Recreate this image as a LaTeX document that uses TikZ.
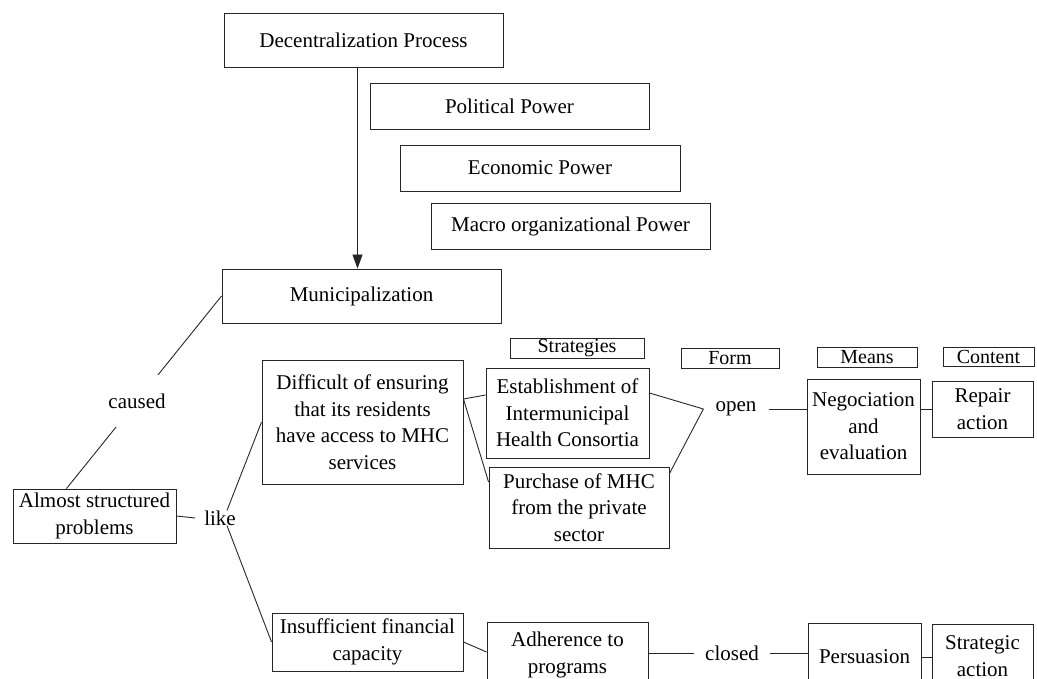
\documentclass[tikz,border=0pt]{standalone}
\usepackage{fontspec}
\setmainfont{Liberation Serif}
\usetikzlibrary{arrows.meta}
\begin{document}
\begin{tikzpicture}[x=1pt,y=-1pt,
  txt/.style={font=\fontsize{21}{26.5}\selectfont},
  box/.style 2 args={txt, draw=black!85, line width=0.9pt, inner sep=0pt, align=center,
    minimum width=#1pt, minimum height=#2pt},
  head/.style={font=\fontsize{20}{24}\selectfont},
  lab/.style={txt, inner xsep=11pt, inner ysep=0pt},
  conn/.style={draw=black!85, line width=0.9pt}]
\useasboundingbox (0,0) rectangle (1037,679);
\clip (0,0) rectangle (1037,679);
% top part
\node[box={279}{54}] (dec) at (363.5,40) {Decentralization Process};
\node[box={279}{46}] (pol) at (509.5,106) {Political Power};
\node[box={280}{46}] (eco) at (540,168) {Economic Power};
\node[box={279}{46}] (mac) at (570.5,226) {Macro organizational Power};
\node[box={279}{54}] (mun) at (361.5,296) {Municipalization};
% left
\node[box={163}{54}] (almost) at (94.5,516) {Almost structured\\problems};
\node[txt, inner xsep=9pt, inner ysep=0pt] (like) at (220,518) {like};
\node[box={201}{124}] (diff) at (362.5,422) {Difficult of ensuring\\that its residents\\have access to MHC\\services};
\node[box={191}{58}] (insuf) at (367.5,642) {Insufficient financial\\capacity};
% headers
\node[box={134}{20}, head] (strat) at (577,348.5) {Strategies};
\node[box={98}{20}, head] (form) at (730,358.5) {Form};
\node[box={100}{20}, head] (means) at (867,357.5) {Means};
\node[box={91}{19}, head] (content) at (988.5,357) {Content};
% middle
\node[box={163}{90}] (estab) at (567.5,413) {Establishment of\\Intermunicipal\\Health Consortia};
\node[box={180}{81}] (purch) at (579,507.5) {Purchase of MHC\\from the private\\sector};
\node[lab, inner xsep=12pt] (open) at (736,409) {open};
\node[box={113}{95}] (neg) at (863.5,426.5) {Negociation\\and\\evaluation};
\node[box={101}{56}] (repair) at (982.5,409) {Repair\\action};
% bottom
\node[box={161}{66}] (adher) at (567.5,655) {Adherence to\\programs};
\node[lab] (closed) at (732,653) {closed};
\node[box={113}{68}] (pers) at (864.5,657) {Persuasion};
\node[box={101}{64}] (strg) at (982.5,656) {Strategic\\action};
% connectors
\coordinate (arrtop) at ([xshift=-6pt]dec.south);
\draw[conn,-{Triangle[length=14pt,width=10pt]}] (arrtop) -- (arrtop |- mun.north);
\draw[conn] ([xshift=-28pt]almost.north) -- node[txt, fill=white, pos=0.455, inner xsep=4pt, inner ysep=19pt] (caused) {caused} (mun.west);
\draw[conn] (almost.east) -- (like.west);
\draw[conn] ([xshift=7pt]like.north) -- (diff.west);
\draw[conn] ([xshift=7pt]like.south) -- (insuf.west);
\draw[conn] ([yshift=23pt]diff.east) -- ([yshift=18pt]estab.west);
\draw[conn] ([yshift=23pt]diff.east) -- ([yshift=25.5pt]purch.west);
\draw[conn] ([yshift=20pt]estab.east) -- (open.west);
\draw[conn] ([yshift=-7pt]purch.north east) -- (open.west);
\draw[conn] (open.east) -- (open.east -| neg.west);
\draw[conn] (neg.east |- repair.west) -- (repair.west);
\draw[conn] (insuf.east) -- ([yshift=3pt]adher.west);
\draw[conn] (closed.west -| adher.east) -- (closed.west);
\draw[conn] (closed.east) -- (closed.east -| pers.west);
\draw[conn] (pers.east) -- (pers.east -| strg.west);
\end{tikzpicture}
\end{document}
